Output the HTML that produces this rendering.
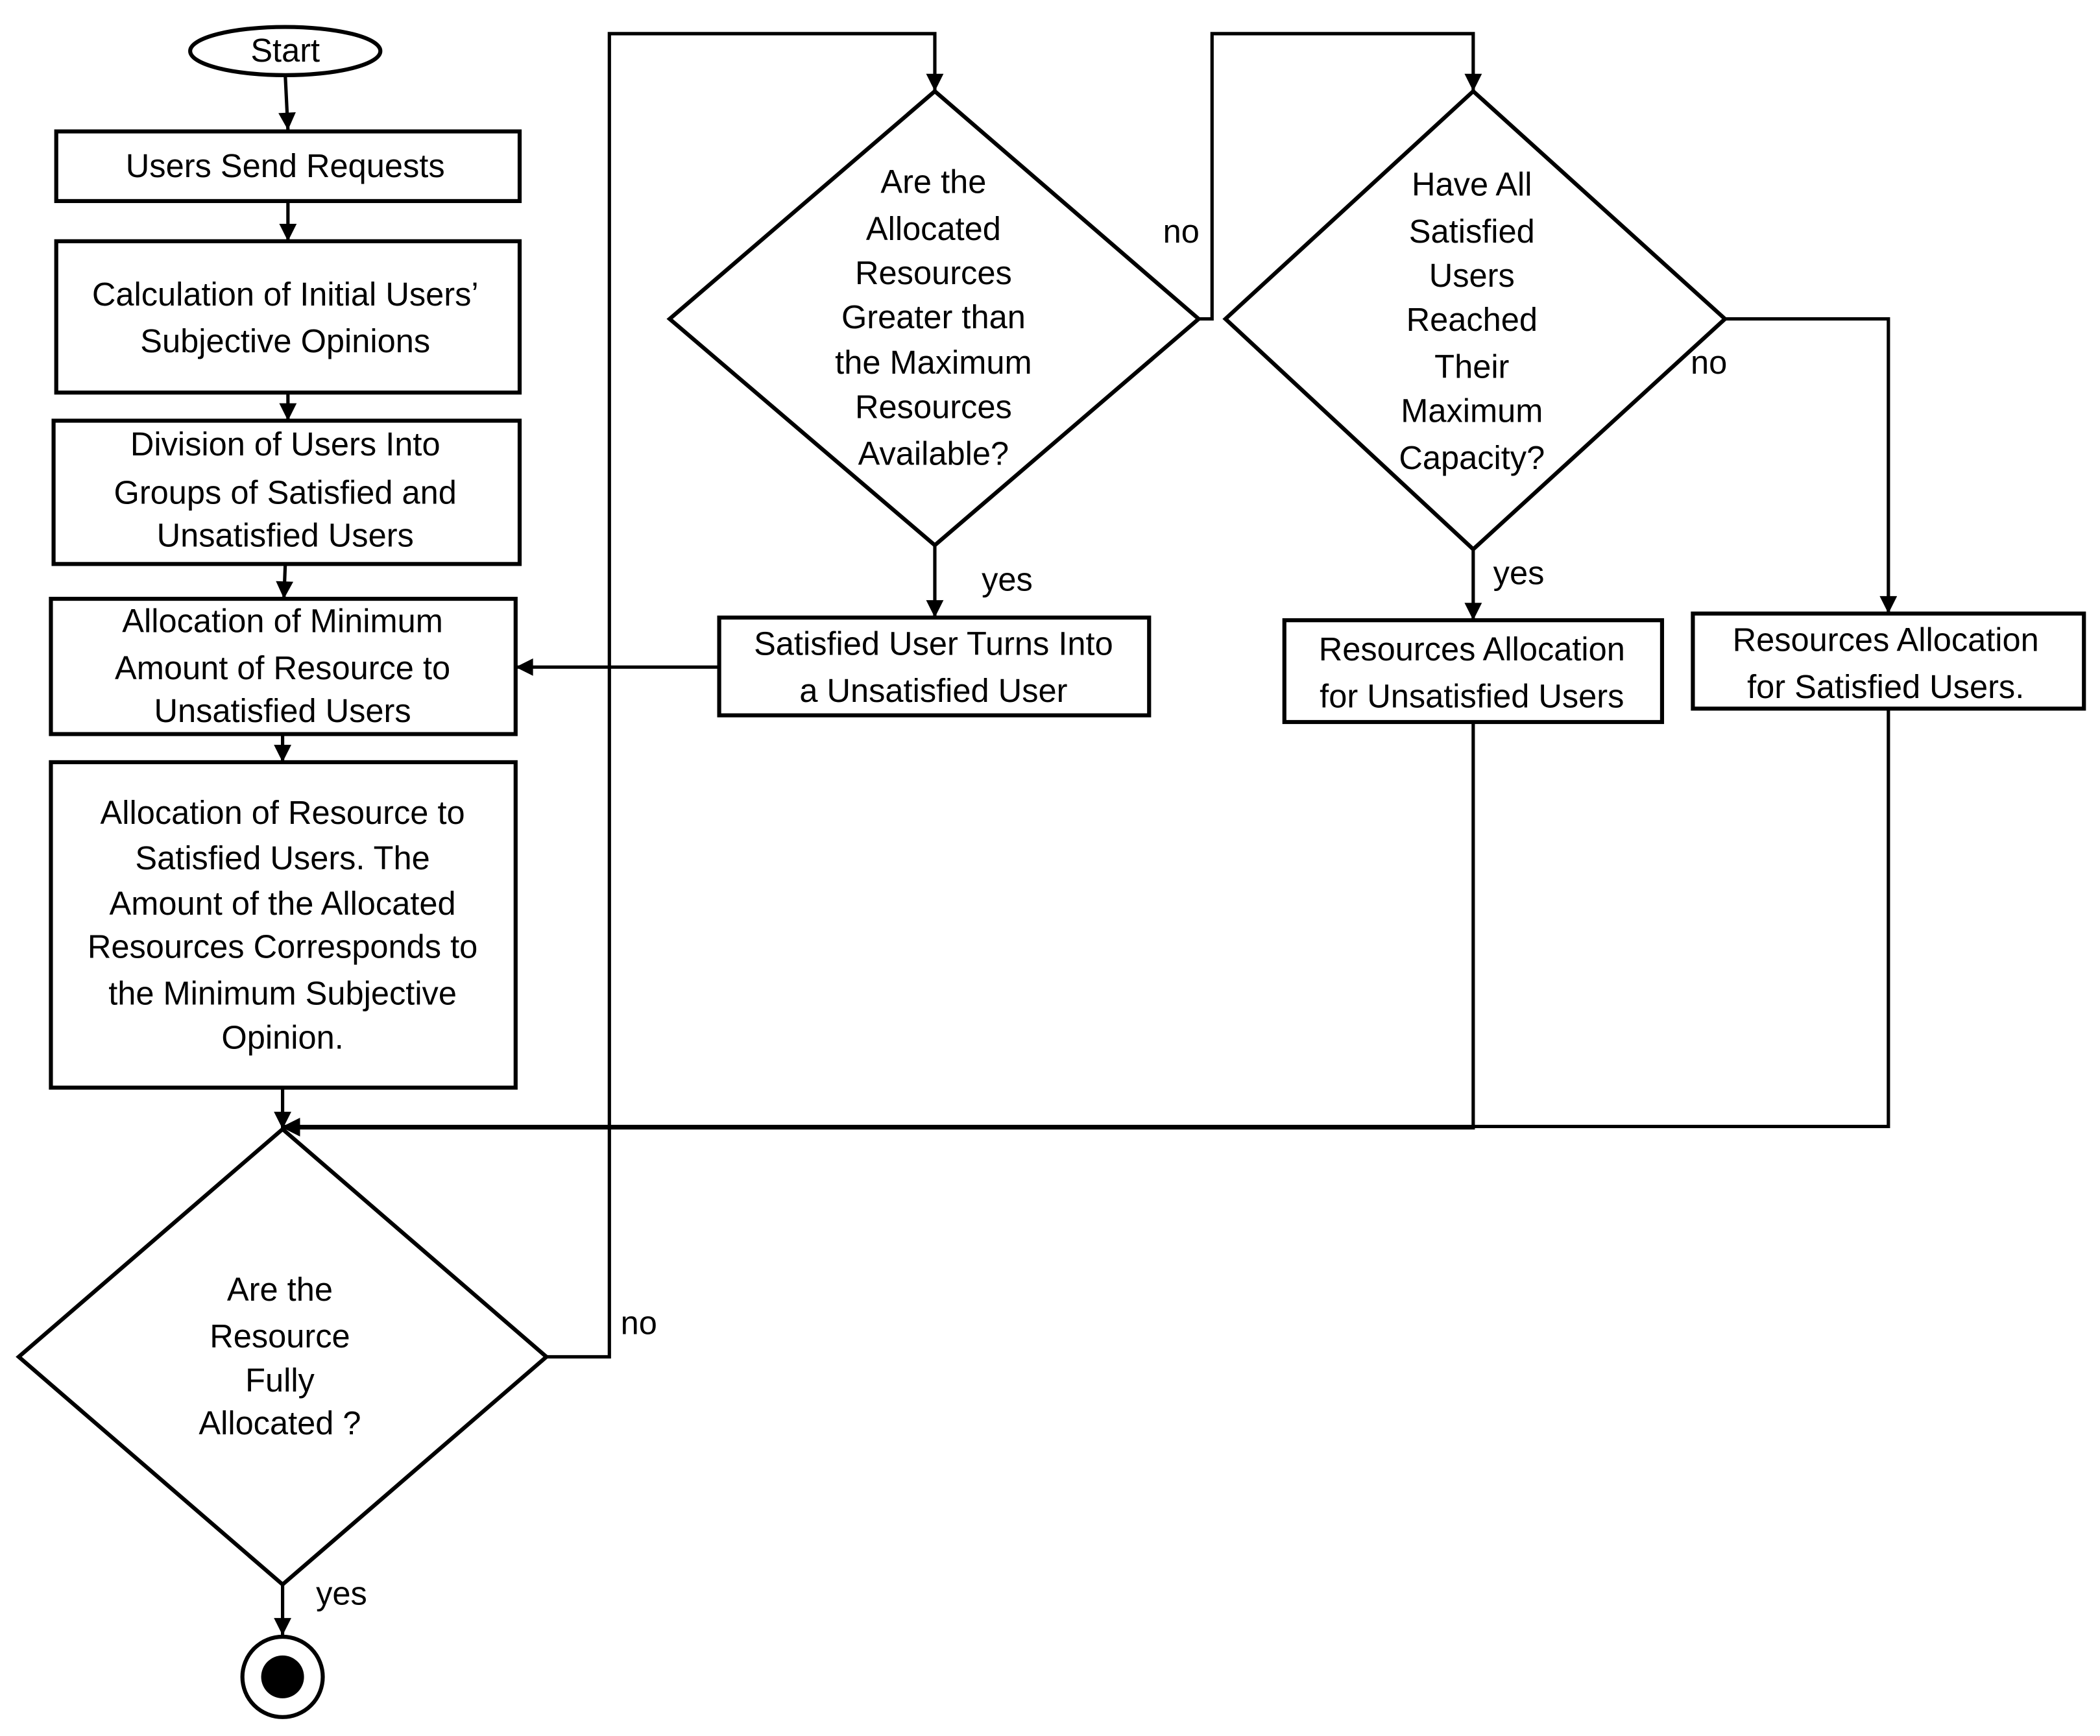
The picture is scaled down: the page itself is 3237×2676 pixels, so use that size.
<!DOCTYPE html>
<html><head><meta charset="utf-8"><style>html,body{margin:0;padding:0;background:#fff}svg{display:block}text{font-family:"Liberation Sans",sans-serif;font-size:24.5px;fill:#000;text-anchor:middle}</style></head>
<body>
<svg width="3237" height="2676" viewBox="0 0 1568 1296" xmlns="http://www.w3.org/2000/svg">
<defs><marker id="b" viewBox="0 0 10 10" refX="10" refY="5" markerWidth="14" markerHeight="13" orient="auto" markerUnits="userSpaceOnUse"><path d="M0,0L10,5L0,10z"/></marker></defs>
<g fill="none" stroke="#000" stroke-width="3">
<ellipse cx="213" cy="38" rx="71" ry="18"/>
<rect x="42" y="98" width="346" height="52"/>
<rect x="42" y="180" width="346" height="113"/>
<rect x="40" y="314" width="348" height="107"/>
<rect x="38" y="447" width="347" height="101"/>
<rect x="38" y="569" width="347" height="243"/>
<polygon points="211,843 408,1013 211,1183 14,1013"/>
<polygon points="698,68 895,238 698,407 500,238"/>
<polygon points="1100,68 1288,238 1100,410 915,238"/>
<rect x="537" y="461" width="321" height="73"/>
<rect x="959" y="463" width="282" height="76"/>
<rect x="1264" y="458" width="292" height="71"/>
<circle cx="211" cy="1252" r="30"/>
</g>
<circle cx="211" cy="1252" r="16" fill="#000"/>
<g fill="none" stroke="#000" stroke-width="2.5" marker-end="url(#b)">
<path d="M213,56L215,97"/>
<path d="M215,150V180"/>
<path d="M215,293V314"/>
<path d="M213,421L212,447"/>
<path d="M211,548V569"/>
<path d="M211,812V843"/>
<path d="M211,1183V1221"/>
<path d="M408,1013H455V25H698V68"/>
<path d="M698,407V461"/>
<path d="M537,498H385"/>
<path d="M895,238H905V25H1100V68"/>
<path d="M1100,410V463"/>
<path d="M1288,238H1410V458"/>
<path d="M1410,529V841H211"/>
<path d="M1100,539V842H211"/>
</g>
<text x="213" y="46">Start</text>
<text x="213" y="132">Users Send Requests</text>
<text x="213" y="228">Calculation of Initial Users’</text><text x="213" y="263">Subjective Opinions</text>
<text x="213" y="340">Division of Users Into</text><text x="213" y="376">Groups of Satisfied and</text><text x="213" y="408">Unsatisfied Users</text>
<text x="211" y="472">Allocation of Minimum</text><text x="211" y="507">Amount of Resource to</text><text x="211" y="539">Unsatisfied Users</text>
<text x="211" y="615">Allocation of Resource to</text><text x="211" y="649">Satisfied Users. The</text><text x="211" y="683">Amount of the Allocated</text><text x="211" y="715">Resources Corresponds to</text><text x="211" y="750">the Minimum Subjective</text><text x="211" y="783">Opinion.</text>
<text x="209" y="971">Are the</text><text x="209" y="1006">Resource</text><text x="209" y="1039">Fully</text><text x="209" y="1071">Allocated ?</text>
<text x="697" y="144">Are the</text><text x="697" y="179">Allocated</text><text x="697" y="212">Resources</text><text x="697" y="245">Greater than</text><text x="697" y="279">the Maximum</text><text x="697" y="312">Resources</text><text x="697" y="347">Available?</text>
<text x="1099" y="146">Have All</text><text x="1099" y="181">Satisfied</text><text x="1099" y="214">Users</text><text x="1099" y="247">Reached</text><text x="1099" y="282">Their</text><text x="1099" y="315">Maximum</text><text x="1099" y="350">Capacity?</text>
<text x="697" y="489">Satisfied User Turns Into</text><text x="697" y="524">a Unsatisfied User</text>
<text x="1099" y="493">Resources Allocation</text><text x="1099" y="528">for Unsatisfied Users</text>
<text x="1408" y="486">Resources Allocation</text><text x="1408" y="521">for Satisfied Users.</text>
<text x="255" y="1198">yes</text><text x="477" y="996">no</text>
<text x="752" y="441">yes</text><text x="882" y="181">no</text>
<text x="1134" y="436">yes</text><text x="1276" y="279">no</text>
</svg>
</body></html>
